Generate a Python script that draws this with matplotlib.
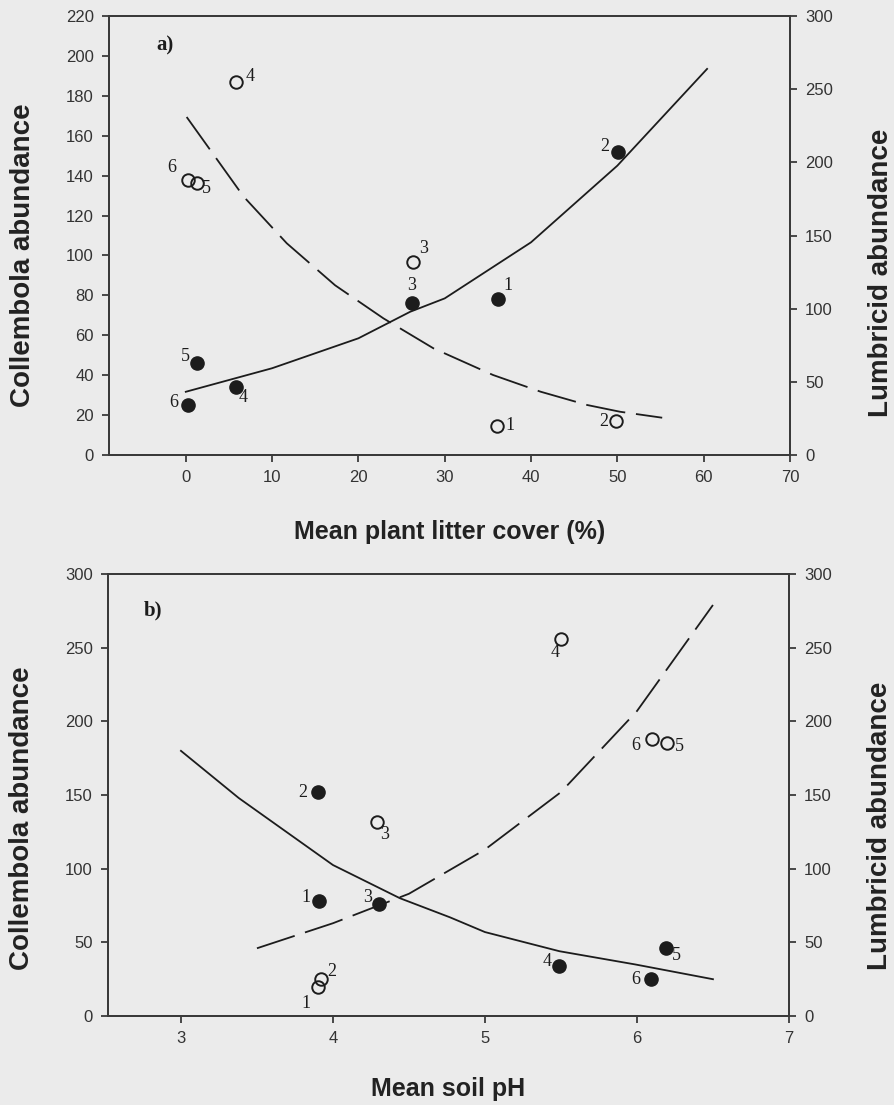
import matplotlib
matplotlib.use("Agg")
import matplotlib.pyplot as plt

# ---------------- data: panel a (plant litter cover) ----------------
a_sites = ["1", "2", "3", "4", "5", "6"]
a_coll_x = [36.2, 50.1, 26.2, 5.8, 1.3, 0.2]
a_coll_y = [78, 152, 76, 34, 46, 25]
a_lumb_x = [36.1, 49.9, 26.3, 5.8, 1.3, 0.3]
a_lumb_y = [20, 23, 132, 255, 186, 188]
a_coll_fit_x = [0, 10, 20, 26, 30, 40, 50, 60.4]
a_coll_fit_y = [31.7, 43.5, 58.5, 71.8, 78.5, 106.6, 145, 193.5]
a_lumb_fit_x = [0.1, 6.7, 11.7, 17.3, 22.9, 28.7, 35.6, 41.1, 46.5, 50.3, 55.2]
a_lumb_fit_y = [231, 176.6, 144.7, 116, 93.4, 72.9, 54.7, 43.3, 34.2, 29.6, 25.5]

# ---------------- data: panel b (soil pH) ----------------
b_sites = ["1", "2", "3", "4", "5", "6"]
b_coll_x = [3.91, 3.90, 4.30, 5.49, 6.19, 6.09]
b_coll_y = [78, 152, 76, 34, 46, 25]
b_lumb_x = [3.90, 3.92, 4.29, 5.50, 6.20, 6.10]
b_lumb_y = [20, 25, 132, 256, 185, 188]
b_coll_fit_x = [3.0, 3.38, 4.0, 4.44, 4.77, 5.0, 5.49, 5.99, 6.5]
b_coll_fit_y = [180, 148, 102.5, 80, 67, 57, 44, 35, 25]
b_lumb_fit_x = [3.5, 4.0, 4.5, 5.0, 5.5, 6.0, 6.5]
b_lumb_fit_y = [46, 63, 83, 113, 152, 207, 279]

a_xticks = [0, 10, 20, 30, 40, 50, 60, 70]
a_yticks_left = list(range(0, 221, 20))
b_xticks = [3, 4, 5, 6, 7]
b_yticks_left = list(range(0, 301, 50))
yticks_right = list(range(0, 301, 50))

# label offsets (pixels) for point labels
a_coll_off = [(10, 14), (-13, 5), (0, 18), (7, -10), (-12, 7), (-14, 3)]
a_lumb_off = [(13, 0), (-13, 0), (11, 13), (14, 5), (9, -6), (-17, 12)]
b_coll_off = [(-13, 4), (-15, 0), (-11, 7), (-12, 4), (11, -7), (-15, 0)]
b_lumb_off = [(-12, -17), (11, 8), (8, -13), (-6, -14), (12, -3), (-16, -6)]

BG = "#ebebeb"
INK = "#1c1c1c"
SPINE = "#3a3a3a"
SANS = ["Liberation Sans", "DejaVu Sans"]
SERIF = ["Liberation Serif", "DejaVu Serif"]

plt.rcParams["font.family"] = SANS

fig = plt.figure(figsize=(8.94, 11.05), dpi=100, facecolor=BG)


def style_axis(ax):
    ax.set_facecolor("none")
    for s in ax.spines.values():
        s.set_color(SPINE)
        s.set_linewidth(1.4)
    ax.tick_params(axis="both", direction="out", length=5, width=1.3,
                   colors=SPINE, labelcolor="#333333", labelsize=12, pad=6)


def panel(rect, xlim, xticks, ylim_left, yticks_left,
          cx, cy, lx, ly, cfx, cfy, lfx, lfy, sites, coff, loff,
          tag, tagpos, xlabel, xlab_y, ylab_y, ylab_r_y):
    ax = fig.add_axes(rect)
    ax2 = ax.twinx()
    style_axis(ax)
    style_axis(ax2)
    ax.set_xlim(*xlim)
    ax.set_xticks(xticks)
    ax.set_ylim(*ylim_left)
    ax.set_yticks(yticks_left)
    ax2.set_ylim(0, 300)
    ax2.set_yticks(yticks_right)

    ax.plot(cfx, cfy, color=INK, lw=1.3, zorder=3)
    ax2.plot(lfx, lfy, color=INK, lw=1.3, dashes=(22, 6), zorder=3)

    ax.plot(cx, cy, "o", ms=9.5, color=INK, mec=INK, zorder=4)
    ax2.plot(lx, ly, "o", ms=9, mfc="none", mec=INK, mew=1.4, zorder=4)

    for s, x, y, (dx, dy) in zip(sites, cx, cy, coff):
        ax.annotate(s, (x, y), xytext=(dx, dy), textcoords="offset pixels",
                    ha="center", va="center", fontsize=13, family=SERIF,
                    color=INK)
    for s, x, y, (dx, dy) in zip(sites, lx, ly, loff):
        ax2.annotate(s, (x, y), xytext=(dx, dy), textcoords="offset pixels",
                     ha="center", va="center", fontsize=13, family=SERIF,
                     color=INK)

    ax.text(tagpos[0], tagpos[1], tag, transform=ax.transAxes, ha="center",
            va="center", fontsize=15, fontweight="bold", family=SERIF,
            color=INK)

    ax.set_xlabel(xlabel, fontsize=18, fontweight="bold", color="#222222")
    ax.set_ylabel("Collembola abundance", fontsize=20, fontweight="bold",
                  color="#222222")
    ax2.set_ylabel("Lumbricid abundance", fontsize=20, fontweight="bold",
                   color="#222222")
    ax.xaxis.set_label_coords(0.5, xlab_y)
    ax.yaxis.set_label_coords(-0.107, ylab_y)
    ax2.yaxis.set_label_coords(1.114, ylab_r_y)
    return ax, ax2


# panel a
axa, axa2 = panel([0.1219, 0.5882, 0.7617, 0.3973], (-8.9, 70), a_xticks,
                  (0, 220), a_yticks_left,
                  a_coll_x, a_coll_y, a_lumb_x, a_lumb_y,
                  a_coll_fit_x, a_coll_fit_y, a_lumb_fit_x, a_lumb_fit_y,
                  a_sites, a_coll_off, a_lumb_off,
                  "a)", (0.082, 0.934), "Mean plant litter cover (%)",
                  -0.148, 0.456, 0.415)

# panel b
axb, axb2 = panel([0.1208, 0.0805, 0.7617, 0.4000], (2.52, 7), b_xticks,
                  (0, 300), b_yticks_left,
                  b_coll_x, b_coll_y, b_lumb_x, b_lumb_y,
                  b_coll_fit_x, b_coll_fit_y, b_lumb_fit_x, b_lumb_fit_y,
                  b_sites, b_coll_off, b_lumb_off,
                  "b)", (0.066, 0.918), "Mean soil pH",
                  -0.138, 0.448, 0.43)

fig.savefig("out.png", dpi=100, facecolor=BG)
